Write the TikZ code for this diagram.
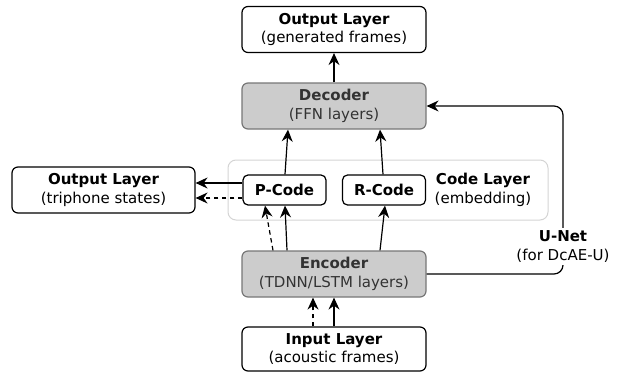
\documentclass[tikz,border=0pt]{standalone}
\usepackage{fontspec}
\setmainfont{DejaVu Sans}
\usetikzlibrary{arrows.meta}
\definecolor{netfill}{HTML}{CCCCCC}
\definecolor{netedge}{HTML}{777777}
\definecolor{nettext}{HTML}{333333}
\definecolor{codeframe}{HTML}{D4D4D4}
\begin{document}
\begin{tikzpicture}
  [x=1pt,y=-1pt,
   every node/.style={align=center,inner sep=0pt,font=\fontsize{15}{18.3}\selectfont},
   layer/.style={draw,rounded corners=6pt,line width=1.2pt,minimum width=184pt,minimum height=46pt},
   net/.style={layer,fill=netfill,draw=netedge,text=nettext},
   codebox/.style={draw,rounded corners=5pt,line width=1.2pt,minimum width=83pt,minimum height=30pt},
   conn/.style={-{Stealth[length=12pt,width=11pt,inset=4pt]},line width=1.2pt},
   aux/.style={conn,dash pattern=on 4.5pt off 3.5pt}]
  \useasboundingbox (0,0) rectangle (619,372);

  % code layer frame
  \node[draw=codeframe,line width=1pt,rounded corners=8pt,minimum width=320pt,minimum height=60pt] (frame) at (388,190) {};

  \node[layer] (outtop) at (334,29.5) {\textbf{Output Layer}\\(generated frames)};
  \node[net] (dec) at (334,106) {\textbf{Decoder}\\(FFN layers)};
  \node[codebox] (pcode) at (284.5,190) {\textbf{P-Code}};
  \node[codebox] (rcode) at (384,190) {\textbf{R-Code}};
  \node (codelbl) at (483,190) {\textbf{Code Layer}\\(embedding)};
  \node[layer,minimum width=183pt] (outleft) at (103.5,190) {\textbf{Output Layer}\\(triphone states)};
  \node[net] (enc) at (334,274) {\textbf{Encoder}\\(TDNN/LSTM layers)};
  \node[layer,minimum height=44pt] (inp) at (334,349) {\textbf{Input Layer}\\(acoustic frames)};

  \foreach \from/\fs/\to/\ts in {dec/0/outtop/0, pcode/0.5/dec/-46, rcode/-1/dec/46,
    enc/-47/pcode/0.5, enc/46/rcode/1, inp/0/enc/0}
    \draw[conn] ([xshift=\fs pt]\from.north) -- ([xshift=\ts pt]\to.south);
  \foreach \from/\fs/\to/\ts in {enc/-61/pcode/-19.5, inp/-21/enc/-21}
    \draw[aux] ([xshift=\fs pt]\from.north) -- ([xshift=\ts pt]\to.south);

  \draw[conn] ([yshift=7pt]pcode.west) -- ([yshift=7pt]outleft.east);
  \draw[aux] ([yshift=-8pt]pcode.west) -- ([yshift=-8pt]outleft.east);

  % skip connection
  \coordinate (ubot) at (563,274);
  \coordinate (utop) at (563,106);
  \draw[conn,rounded corners=9pt] (enc.east) -- (ubot) -- (utop) -- (dec.east);
  \node[fill=white,inner sep=3pt] (unet) at (563,246.5) {\textbf{U-Net}\\(for DcAE-U)};
\end{tikzpicture}
\end{document}
